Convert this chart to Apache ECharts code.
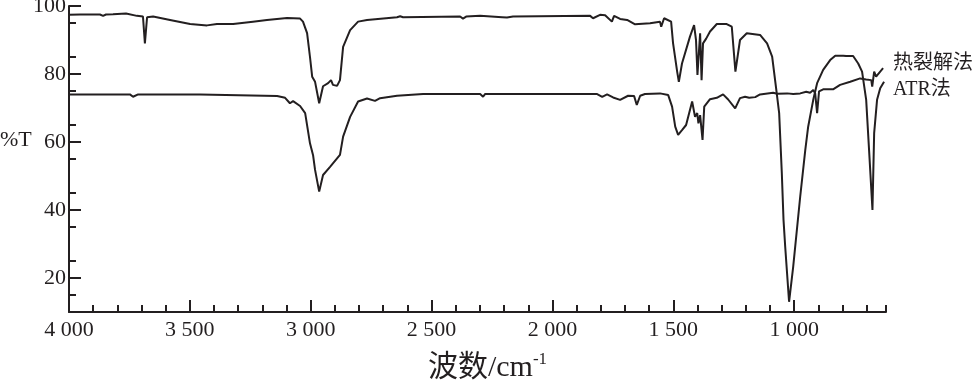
<!DOCTYPE html>
<html>
<head>
<meta charset="utf-8">
<script src="https://cdn.jsdelivr.net/npm/echarts@6/dist/echarts.min.js"></script>
<style>
  html, body { margin: 0; padding: 0; background: #fff; }
  #chart { width: 975px; height: 381px; }
</style>
</head>
<body>
<div id="chart"></div>
<script>
// 热裂解法 spectrum (wavenumber, %T)
var pyroWave = [4000, 3954, 3872, 3859, 3847, 3818, 3764, 3719, 3694, 3686, 3677, 3652, 3582, 3499, 3429, 3388, 3321, 3239, 3181, 3098,
    3044, 3032, 3015, 3003, 2994, 2982, 2965, 2949, 2928, 2916, 2908, 2891, 2879, 2866, 2837, 2804, 2767, 2643, 2630, 2618,
    2382, 2370, 2357, 2299, 2208, 2188, 2163, 1844, 1832, 1803, 1782, 1754, 1745, 1720, 1691, 1658, 1596, 1555, 1550, 1538,
    1509, 1501, 1484, 1477, 1464, 1431, 1414, 1406, 1400, 1389, 1383, 1377, 1364, 1348, 1320, 1279, 1258, 1243, 1224, 1196,
    1141, 1112, 1091, 1072, 1062, 1058, 1051, 1044, 1037, 1021, 1004, 975, 954, 942, 921, 905, 880, 851, 830, 797,
    785, 756, 735, 719, 702, 690, 676, 669, 657, 644, 628];
var pyroT = [97.4, 97.5, 97.5, 97.1, 97.5, 97.6, 97.8, 97.1, 96.9, 89.0, 96.7, 96.9, 95.9, 94.7, 94.3, 94.7, 94.7, 95.4, 95.9, 96.5,
    96.3, 95.4, 92.0, 85.0, 79.2, 77.7, 71.4, 76.4, 77.3, 78.2, 76.8, 76.5, 78.2, 88.0, 92.9, 95.4, 95.9, 96.7, 97.0, 96.7,
    96.9, 96.3, 96.9, 97.1, 96.7, 96.6, 96.9, 97.1, 96.4, 97.4, 97.3, 95.4, 97.1, 96.2, 95.9, 94.6, 94.9, 95.4, 93.9, 96.4,
    95.4, 89.1, 80.7, 77.7, 83.1, 91.0, 94.4, 90.0, 79.7, 92.0, 78.2, 89.0, 90.4, 92.5, 94.7, 94.7, 93.9, 80.7, 90.0, 92.0,
    91.5, 89.0, 85.1, 74.3, 68.5, 68.3, 50.8, 37.1, 29.2, 13.0, 23.3, 43.9, 57.6, 64.5, 72.4, 77.3, 81.2, 84.1, 85.4, 85.4,
    85.3, 85.3, 83.1, 80.7, 72.4, 57.6, 40.0, 62.6, 72.4, 75.8, 77.7];

// ATR法 spectrum (wavenumber, %T)
var atrWave = [4000, 3748, 3735, 3714, 3458, 3454, 3139, 3106, 3086, 3073, 3044, 3023, 3003, 2990, 2982, 2965, 2949, 2920, 2879, 2866,
    2837, 2804, 2767, 2734, 2713, 2643, 2535, 2299, 2287, 2279, 1815, 1794, 1774, 1749, 1720, 1687, 1662, 1651, 1637, 1617,
    1555, 1521, 1505, 1492, 1480, 1464, 1447, 1422, 1410, 1401, 1396, 1389, 1379, 1372, 1348, 1320, 1294, 1273, 1244, 1224,
    1203, 1186, 1161, 1141, 1087, 1070, 1029, 1004, 975, 950, 934, 921, 913, 905, 897, 880, 839, 810, 768, 727,
    719, 702, 681, 677, 669, 661, 644, 632];
var atrT = [74.0, 74.0, 73.3, 74.0, 74.0, 73.5, 73.5, 73.0, 71.4, 72.0, 70.6, 68.5, 59.6, 56.0, 51.8, 45.4, 50.3, 52.7, 56.2, 61.6,
    67.4, 71.9, 72.8, 72.1, 72.9, 73.6, 74.1, 74.1, 73.3, 74.1, 74.1, 73.3, 74.0, 73.1, 72.4, 73.6, 73.5, 70.9, 73.6, 74.1,
    74.3, 73.8, 70.4, 64.5, 62.1, 63.5, 65.0, 71.9, 67.4, 68.5, 65.5, 67.9, 60.6, 70.4, 72.6, 73.0, 74.0, 72.5, 69.9, 72.9,
    73.3, 73.0, 73.2, 74.0, 74.5, 74.2, 74.3, 74.1, 74.3, 74.8, 74.5, 75.3, 74.3, 68.5, 74.9, 75.5, 75.5, 76.8, 77.7, 78.7,
    78.8, 78.4, 78.2, 76.3, 80.7, 79.2, 80.7, 81.7];

// tick labels
var xMajor = [1000, 1500, 2000, 2500, 3000, 3500, 4000];
var xMinor = [620, 700, 800, 900, 1100, 1200, 1300, 1400, 1600, 1700, 1800, 1900, 2100, 2200, 2300, 2400,
    2600, 2700, 2800, 2900, 3100, 3200, 3300, 3400, 3600, 3700, 3800, 3900];
var yMajor = [20, 40, 60, 80, 100];
var yMinor = [15, 25, 35, 45, 55, 65, 75, 85, 95];

var ink = '#231f20';
var serif = '"Liberation Serif", "Times New Roman", serif';
var cjk = '"Liberation Serif", "Noto Sans CJK SC", serif';

function pairs(xs, ys) {
    return xs.map(function (x, i) { return [x, ys[i]]; });
}

function fmtWave(v) {
    var s = String(v);
    return s.length > 3 ? s.slice(0, s.length - 3) + ' ' + s.slice(-3) : s;
}

var option = {
    animation: false,
    grid: { left: 69, right: 89, top: 6, bottom: 69, outerBoundsMode: 'none', containLabel: false },
    xAxis: [{
        type: 'value',
        inverse: true,
        position: 'bottom',
        min: 620,
        max: 4000,
        axisLine: { show: true, lineStyle: { color: ink, width: 2 } },
        axisTick: { show: true, inside: true, length: 12, customValues: xMajor, lineStyle: { color: ink, width: 2 } },
        axisLabel: {
            customValues: xMajor,
            margin: 7,
            color: ink,
            fontFamily: serif,
            fontSize: 22,
            formatter: fmtWave
        },
        splitLine: { show: false },
        name: '{a|波数/cm}{b|-1}',
        nameLocation: 'middle',
        nameGap: 39,
        nameTextStyle: {
            padding: [0, 0, 0, 20],
            rich: {
                a: { fontFamily: cjk, fontSize: 30, color: ink, lineHeight: 34 },
                b: { fontFamily: serif, fontSize: 17, color: ink, verticalAlign: 'top', lineHeight: 34 }
            }
        }
    }, {
        type: 'value',
        inverse: true,
        position: 'bottom',
        min: 620,
        max: 4000,
        axisLine: { show: false },
        axisTick: { show: true, inside: true, length: 7, customValues: xMinor, lineStyle: { color: ink, width: 2 } },
        axisLabel: { show: false },
        splitLine: { show: false }
    }],
    yAxis: [{
        type: 'value',
        min: 10,
        max: 100,
        position: 'left',
        axisLine: { show: true, lineStyle: { color: ink, width: 2 } },
        axisTick: { show: true, inside: true, length: 12, customValues: yMajor, lineStyle: { color: ink, width: 2 } },
        axisLabel: { customValues: yMajor, margin: 3, color: ink, fontFamily: serif, fontSize: 22 },
        splitLine: { show: false }
    }, {
        type: 'value',
        min: 10,
        max: 100,
        position: 'left',
        axisLine: { show: false },
        axisTick: { show: true, inside: true, length: 7, customValues: yMinor, lineStyle: { color: ink, width: 2 } },
        axisLabel: { show: false },
        splitLine: { show: false }
    }],
    graphic: [
        { type: 'text', left: 0, top: 129, style: { text: '%T', font: '22px ' + serif, fill: ink } },
        { type: 'text', left: 893, top: 54, style: { text: '热裂解法', font: '20px ' + cjk, fill: ink } },
        { type: 'text', left: 893, top: 80, style: { text: 'ATR法', font: '20px ' + cjk, fill: ink } }
    ],
    series: [{
        name: '热裂解法',
        type: 'line',
        xAxisIndex: 0,
        yAxisIndex: 0,
        showSymbol: false,
        lineStyle: { color: ink, width: 2 },
        data: pairs(pyroWave, pyroT)
    }, {
        name: 'ATR法',
        type: 'line',
        xAxisIndex: 0,
        yAxisIndex: 0,
        showSymbol: false,
        lineStyle: { color: ink, width: 2 },
        data: pairs(atrWave, atrT)
    }]
};

var chart = echarts.init(document.getElementById('chart'));
chart.setOption(option);
</script>
</body>
</html>
